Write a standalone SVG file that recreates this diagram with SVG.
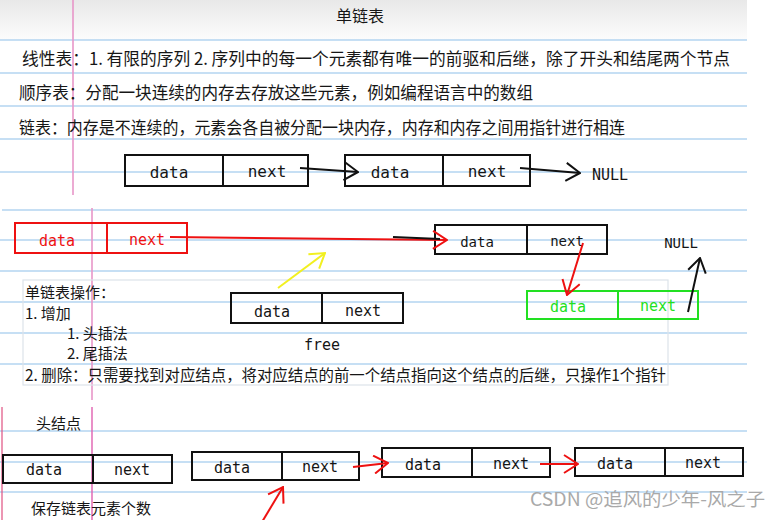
<svg xmlns="http://www.w3.org/2000/svg" width="781" height="520" viewBox="0 0 781 520">
<defs>
<linearGradient id="hdr" x1="0" y1="0" x2="0" y2="1">
<stop offset="0" stop-color="#e8e8e8"/>
<stop offset="1" stop-color="#fcfcfc"/>
</linearGradient>
<marker id="mk-black" viewBox="0 0 16 20" refX="15" refY="10" markerWidth="16" markerHeight="20" markerUnits="userSpaceOnUse" orient="auto">
<path d="M1,1 L15,10 L1,19" fill="none" stroke="#111" stroke-width="2"/>
</marker>
<marker id="mk-red" viewBox="0 0 16 20" refX="15" refY="10" markerWidth="16" markerHeight="20" markerUnits="userSpaceOnUse" orient="auto">
<path d="M1,1 L15,10 L1,19" fill="none" stroke="#ee1111" stroke-width="2"/>
</marker>
<marker id="mk-yellow" viewBox="0 0 16 20" refX="15" refY="10" markerWidth="16" markerHeight="20" markerUnits="userSpaceOnUse" orient="auto">
<path d="M1,1 L15,10 L1,19" fill="none" stroke="#f2f020" stroke-width="2"/>
</marker>
</defs>
<style>
.rule{stroke:#b3d5f0;stroke-width:1.6}
.pink{stroke:#e896c8;stroke-width:1.6}
.cjk{font-family:"Noto Sans CJK SC","Noto Sans",sans-serif;fill:#161616}
.mono{font-family:"DejaVu Sans Mono","Liberation Mono",monospace;text-anchor:middle;fill:#151515}
.box{fill:none;stroke:#111;stroke-width:2}
.rbox{fill:none;stroke:#ee1111;stroke-width:2}
.gbox{fill:none;stroke:#22e022;stroke-width:2}
.blk{fill:none;stroke:#111;stroke-width:2}
.red{fill:none;stroke:#ee1111;stroke-width:2}
.yel{fill:none;stroke:#f2f020;stroke-width:2}
</style>
<rect x="0" y="0" width="781" height="520" fill="#ffffff"/>
<rect x="0" y="0" width="747" height="40" fill="url(#hdr)"/>
<g id="rules">
<line class="rule" x1="0" y1="40" x2="747" y2="40"/>
<line class="rule" x1="0" y1="73" x2="747" y2="73"/>
<line class="rule" x1="0" y1="106" x2="747" y2="106"/>
<line class="rule" x1="0" y1="139" x2="747" y2="139"/>
<line class="rule" x1="0" y1="172" x2="747" y2="172"/>
<line class="rule" x1="2" y1="210" x2="747" y2="210"/>
<line class="rule" x1="0" y1="240" x2="747" y2="240"/>
<line class="rule" x1="0" y1="271" x2="747" y2="271"/>
<line class="rule" x1="0" y1="302" x2="747" y2="302"/>
<line class="rule" x1="0" y1="333" x2="747" y2="333"/>
<line class="rule" x1="0" y1="364" x2="747" y2="364"/>
<line class="rule" x1="0" y1="431" x2="747" y2="431"/>
<line class="rule" x1="0" y1="462" x2="747" y2="462"/>
<line class="rule" x1="0" y1="492" x2="747" y2="492"/>
<line class="pink" x1="73" y1="0" x2="73" y2="195"/>
<line class="pink" x1="92" y1="208" x2="92" y2="400"/>
<line x1="92" y1="407" x2="92" y2="520" stroke="#e060b0" stroke-width="1.4"/>
<line x1="2" y1="407" x2="2" y2="520" stroke="#e05080" stroke-width="1.2"/>
</g>
<rect x="23" y="280" width="645" height="105" fill="none" stroke="#dce3ea" stroke-width="1.2"/>
<g id="texts">
<text class="cjk" x="360" y="22" font-size="16" text-anchor="middle">单链表</text>
<text class="cjk" x="22" y="65" font-size="17" textLength="708" lengthAdjust="spacingAndGlyphs">线性表：1. 有限的序列 2. 序列中的每一个元素都有唯一的前驱和后继，除了开头和结尾两个节点</text>
<text class="cjk" x="19" y="99" font-size="17" textLength="514" lengthAdjust="spacingAndGlyphs">顺序表：分配一块连续的内存去存放这些元素，例如编程语言中的数组</text>
<text class="cjk" x="19" y="134" font-size="17" textLength="606" lengthAdjust="spacingAndGlyphs">链表：内存是不连续的，元素会各自被分配一块内存，内存和内存之间用指针进行相连</text>
<text class="cjk" x="25" y="298" font-size="15">单链表操作：</text>
<text class="cjk" x="25" y="319" font-size="15">1. 增加</text>
<text class="cjk" x="67" y="339" font-size="15">1. 头插法</text>
<text class="cjk" x="67" y="359" font-size="15">2. 尾插法</text>
<text class="cjk" x="25" y="381" font-size="16" textLength="641" lengthAdjust="spacingAndGlyphs">2. 删除：只需要找到对应结点，将对应结点的前一个结点指向这个结点的后继，只操作1个指针</text>
<text class="cjk" x="36" y="429" font-size="15">头结点</text>
<text class="cjk" x="31" y="514" font-size="15">保存链表元素个数</text>
<text class="mono" x="610" y="180" font-size="15">NULL</text>
<text class="mono" x="681" y="248" font-size="14">NULL</text>
<text class="mono" x="322" y="350" font-size="15">free</text>
</g>
<g id="node-top-1">
<rect class="box" x="125" y="155" width="183" height="31"/>
<line class="box" x1="223" y1="155" x2="223" y2="186"/>
<text class="mono" x="169" y="178" font-size="16">data</text>
<text class="mono" x="267" y="177" font-size="16">next</text>
</g>
<g id="node-top-2">
<rect class="box" x="345" y="155" width="185" height="31"/>
<line class="box" x1="443" y1="155" x2="443" y2="186"/>
<text class="mono" x="390" y="178" font-size="16">data</text>
<text class="mono" x="487" y="177" font-size="16">next</text>
</g>
<g id="node-red">
<rect class="rbox" x="15" y="223" width="172" height="30"/>
<line class="rbox" x1="107" y1="223" x2="107" y2="253"/>
<text class="mono" x="57" y="246" font-size="15" style="fill:#ee1111">data</text>
<text class="mono" x="147" y="245" font-size="15" style="fill:#ee1111">next</text>
</g>
<g id="node-mid-2">
<rect class="box" x="435" y="225" width="172" height="29"/>
<line class="box" x1="527" y1="225" x2="527" y2="254"/>
<text class="mono" x="477" y="247" font-size="14">data</text>
<text class="mono" x="567" y="246" font-size="14">next</text>
</g>
<g id="node-free">
<rect class="box" x="231" y="293" width="172" height="30"/>
<line class="box" x1="322" y1="293" x2="322" y2="323"/>
<text class="mono" x="272" y="317" font-size="15">data</text>
<text class="mono" x="363" y="316" font-size="15">next</text>
</g>
<g id="node-green">
<rect class="gbox" x="527" y="291" width="171" height="28"/>
<line class="gbox" x1="618" y1="291" x2="618" y2="319"/>
<text class="mono" x="568" y="312" font-size="15" style="fill:#22e022">data</text>
<text class="mono" x="658" y="311" font-size="15" style="fill:#22e022">next</text>
</g>
<g id="node-head">
<rect class="box" x="3" y="455" width="169" height="28"/>
<line class="box" x1="93" y1="455" x2="93" y2="483"/>
<text class="mono" x="44" y="475" font-size="15">data</text>
<text class="mono" x="132" y="475" font-size="15">next</text>
</g>
<g id="node-b2">
<rect class="box" x="192" y="452" width="167" height="28"/>
<line class="box" x1="282" y1="452" x2="282" y2="480"/>
<text class="mono" x="232" y="473" font-size="15">data</text>
<text class="mono" x="320" y="472" font-size="15">next</text>
</g>
<g id="node-b3">
<rect class="box" x="382" y="448" width="168" height="29"/>
<line class="box" x1="472" y1="448" x2="472" y2="477"/>
<text class="mono" x="423" y="470" font-size="15">data</text>
<text class="mono" x="511" y="469" font-size="15">next</text>
</g>
<g id="node-b4">
<rect class="box" x="575" y="448" width="168" height="28"/>
<line class="box" x1="665" y1="448" x2="665" y2="476"/>
<text class="mono" x="615" y="469" font-size="15">data</text>
<text class="mono" x="703" y="468" font-size="15">next</text>
</g>
<g id="connectors">
<path class="blk" d="M300,168 L358,172" marker-end="url(#mk-black)"/>
<path class="blk" d="M520,168 L580,173" marker-end="url(#mk-black)"/>
<path class="red" d="M170,237 L447,240" marker-end="url(#mk-red)"/>
<path class="blk" d="M393,237 L440,239"/>
<path class="red" d="M583,243 L567,295" marker-end="url(#mk-red)"/>
<path class="blk" d="M688,312 L700,258" marker-end="url(#mk-black)"/>
<path class="yel" d="M278,288 L325,253" marker-end="url(#mk-yellow)"/>
<path class="red" d="M353,467 L388,463" marker-end="url(#mk-red)"/>
<path class="red" d="M540,464 L578,464" marker-end="url(#mk-red)"/>
<path class="red" d="M262,522 L283,487" marker-end="url(#mk-red)"/>
</g>
<text x="530" y="506" font-family="'Noto Sans CJK SC','Noto Sans',sans-serif" font-size="18" fill="#a9a9a9" textLength="235" lengthAdjust="spacingAndGlyphs">CSDN @追风的少年-风之子</text>
</svg>
